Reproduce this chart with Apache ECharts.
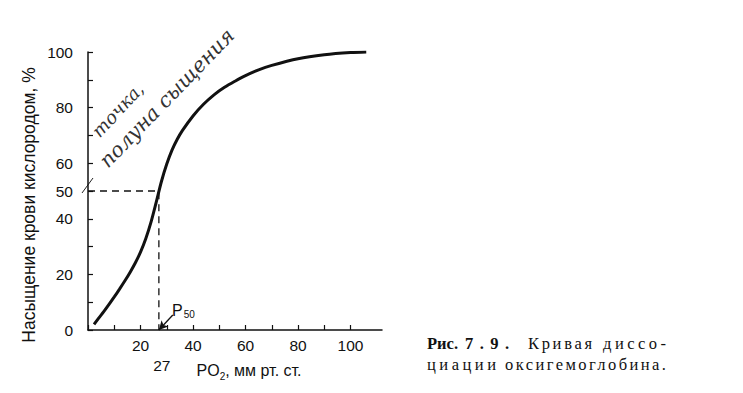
<!DOCTYPE html>
<html><head><meta charset="utf-8">
<script src="https://cdn.jsdelivr.net/npm/echarts@6/dist/echarts.min.js"></script>
<style>html,body{margin:0;padding:0;background:#fff}#c{width:743px;height:393px}</style>
</head><body><div id="c"></div>
<script>
// Oxyhaemoglobin dissociation curve
const po2 = [2.3, 4, 6, 8, 10, 12, 14, 16, 18, 20, 22, 24, 26, 28, 30, 32, 34, 36, 40, 44, 48, 52, 56, 60, 65, 70, 80, 90, 100, 106];
const saturation = [2, 4.2, 6.6, 9.2, 11.9, 14.7, 17.6, 20.7, 24.1, 28, 32.8, 38.8, 46, 53.5, 59.7, 64.7, 68.6, 71.8, 77, 81.2, 84.6, 87.3, 89.5, 91.5, 93.6, 95.2, 97.6, 99, 99.8, 100];
const p50 = 27;
const halfSat = 50;
const xTicks = [0, 10, 20, 30, 40, 50, 60, 70, 80, 90, 100];
const xTickLabels = [20, 40, 60, 80, 100];
const yTicks = [0, 10, 20, 30, 40, 50, 60, 70, 80, 90, 100];
const yTickLabels = [0, 20, 40, 50, 60, 80, 100];

const chart = echarts.init(document.getElementById('c'), null, {renderer: 'svg'});
const sans = '"Liberation Sans", Arial, sans-serif';
const serif = '"Liberation Serif", "Times New Roman", serif';
const hand = '"DejaVu Serif", serif';
const ink = '#111';

const curve = po2.map((x, i) => [x, saturation[i]]);

chart.setOption({
  animation: false,
  backgroundColor: '#fff',
  grid: {left: 88, right: 361, top: 52, bottom: 63, containLabel: false},
  xAxis: {
    type: 'value', min: 0, max: 112,
    axisLine: {lineStyle: {color: ink, width: 1.5}},
    axisTick: {inside: true, length: 5, lineStyle: {color: ink, width: 1.2}, customValues: xTicks},
    axisLabel: {customValues: xTickLabels, color: ink, fontFamily: sans, fontSize: 15.5, margin: 7},
    splitLine: {show: false},
    name: '{n|PO}{s|2}{n|, мм рт. ст.}',
    nameLocation: 'middle', nameGap: 29,
    nameTextStyle: {padding: [0, 0, 0, 28], rich: {
      n: {fontFamily: sans, fontSize: 16, color: ink},
      s: {fontFamily: sans, fontSize: 10, color: ink, verticalAlign: 'bottom', padding: [12, 0, 0, 0]}
    }}
  },
  yAxis: {
    type: 'value', min: 0, max: 100,
    axisLine: {show: true, lineStyle: {color: ink, width: 1.5}},
    axisTick: {show: true, inside: true, length: 5, lineStyle: {color: ink, width: 1.2}, customValues: yTicks},
    axisLabel: {customValues: yTickLabels, color: ink, fontFamily: sans, fontSize: 15.5, margin: 15},
    splitLine: {show: false},
    name: 'Насыщение крови кислородом, %',
    nameLocation: 'middle', nameRotate: 90, nameGap: 50,
    nameTextStyle: {fontFamily: sans, fontSize: 17.5, color: ink, padding: [0, 28, 0, 0]}
  },
  series: [
    {
      type: 'line', data: curve, smooth: 0.3, showSymbol: false,
      lineStyle: {color: ink, width: 3}
    },
    {
      type: 'line', data: [[0, halfSat], [p50, halfSat], [p50, 0]], showSymbol: false,
      lineStyle: {color: ink, width: 1.3, type: [7, 5]},
      markLine: {
        silent: true, symbol: ['none', 'arrow'], symbolSize: [7, 9],
        label: {show: false},
        lineStyle: {color: ink, width: 1.3, type: 'solid'},
        data: [[{coord: [32.3, 5.4]}, {coord: [p50, 0]}]]
      }
    }
  ]
});

function px(x, y) { return chart.convertToPixel({gridIndex: 0}, [x, y]); }
const pHalf = px(0, halfSat);
const p27 = px(p50, 0);
const pLab = px(32, 7);
const deg = Math.PI / 180;

function capText(text, x, y, bold) {
  return {type: 'text', x: x, y: y, style: {text: text, fontFamily: serif, fontWeight: bold ? 'bold' : 'normal', fontSize: 16.5, fill: ink, verticalAlign: 'middle'}};
}

chart.setOption({
  graphic: [
    {type: 'text', x: p27[0] + 3, y: 365, style: {text: String(p50), fontFamily: sans, fontSize: 15.5, fill: ink, align: 'center', verticalAlign: 'middle'}},
    {type: 'text', x: pLab[0], y: pLab[1], style: {
      text: '{p|P}{s|50}', align: 'left', verticalAlign: 'middle',
      rich: {p: {fontFamily: sans, fontSize: 16, fill: ink}, s: {fontFamily: sans, fontSize: 10, fill: ink, padding: [8, 0, 0, 1]}}
    }},
    {type: 'line', shape: {x1: pHalf[0] - 6, y1: pHalf[1] + 2, x2: pHalf[0] + 5, y2: pHalf[1] - 13}, style: {stroke: '#222', lineWidth: 1}},
    {type: 'text', x: 95, y: 134, rotation: 47 * deg, style: {text: 'точка,', fontFamily: hand, fontStyle: 'italic', fontSize: 18, fill: '#333', align: 'left', verticalAlign: 'middle'}},
    {type: 'text', x: 103, y: 164, rotation: 46 * deg, style: {text: 'полуна сыщения', fontFamily: hand, fontStyle: 'italic', fontSize: 20.5, fill: '#333', align: 'left', verticalAlign: 'middle'}},
    capText('Рис.', 427, 343, true),
    capText('7.9.', 465, 343, true),
    capText('Кривая', 528, 343),
    capText('диссо-', 603, 343),
    capText('циации', 427, 364),
    capText('оксигемоглобина.', 505, 364)
  ]
});

// the printed caption is letter-spaced: stretch each word to its width in the figure
const targetWidths = {'Рис.': 26, '7.9.': 44, 'Кривая': 64, 'диссо-': 63, 'циации': 69, 'оксигемоглобина.': 161};
document.querySelectorAll('#c svg text').forEach(function (el) {
  const t = el.textContent;
  if (targetWidths[t] && el.getComputedTextLength) {
    const w = el.getComputedTextLength();
    const n = [...t].length;
    const sp = (targetWidths[t] - w) / (n - 1);
    if (sp > 0) el.style.letterSpacing = sp.toFixed(2) + 'px';
  }
});
</script></body></html>
